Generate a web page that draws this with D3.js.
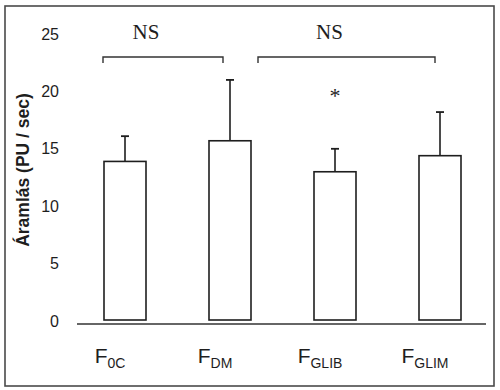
<!DOCTYPE html>
<html>
<head>
<meta charset="utf-8">
<script src="https://cdn.jsdelivr.net/npm/d3@7"></script>
<style>
  html, body { margin: 0; padding: 0; background: #fff; }
  svg { display: block; }
</style>
</head>
<body>
<svg id="chart" width="500" height="390"></svg>
<script>
// ---- data ----
const categories = ["F0C", "FDM", "FGLIB", "FGLIM"];
const labelMain = ["F", "F", "F", "F"];
const labelSub = ["0C", "DM", "GLIB", "GLIM"];
const means = [13.9, 15.7, 13.0, 14.4];
const errorTops = [16.1, 21.0, 15.0, 18.2];
const yTicks = [0, 5, 10, 15, 20, 25];
const bracketFrom = ["F0C", "FDM"];
const bracketTo = ["FDM", "FGLIM"];
const bracketLabels = ["NS", "NS"];
const bracketValue = 23.0;
const starCategory = "FGLIB";
const starLabel = "*";
const yTitle = "Áramlás (PU / sec)";

// ---- drawing ----
const svg = d3.select("#chart");
const ink = "#1e1e1e";

// outer frame
svg.append("rect")
  .attr("x", 5).attr("y", 6).attr("width", 489).attr("height", 380)
  .attr("fill", "none").attr("stroke", "#4a4a4a").attr("stroke-width", 1.6);

const y = d3.scaleLinear().domain([0, 25]).range([321, 34]);
const x = d3.scalePoint().domain(categories).range([125, 440]);
const barW = 42;

// y tick labels (no axis line)
const yAxis = d3.axisLeft(y).tickValues(yTicks).tickSize(0).tickPadding(0);
const gy = svg.append("g").attr("transform", "translate(59,0)").call(yAxis);
gy.select(".domain").remove();
gy.selectAll("text")
  .attr("font-family", "'Liberation Sans', Arial, sans-serif")
  .attr("font-size", 16)
  .attr("fill", ink);

// y title
svg.append("text")
  .attr("transform", `translate(29,170) rotate(-90)`)
  .attr("text-anchor", "middle")
  .attr("font-family", "'Liberation Sans', Arial, sans-serif")
  .attr("font-weight", "bold")
  .attr("font-size", 17.5)
  .attr("fill", ink)
  .text(yTitle);

// x baseline
svg.append("line")
  .attr("x1", 77).attr("x2", 486)
  .attr("y1", y(0) + 3).attr("y2", y(0) + 3)
  .attr("stroke", "#333").attr("stroke-width", 1.6);

// error bars
categories.forEach((c, i) => {
  svg.append("line")
    .attr("x1", x(c)).attr("x2", x(c))
    .attr("y1", y(means[i])).attr("y2", y(errorTops[i]))
    .attr("stroke", ink).attr("stroke-width", 1.6);
  svg.append("line")
    .attr("x1", x(c) - 4).attr("x2", x(c) + 4)
    .attr("y1", y(errorTops[i])).attr("y2", y(errorTops[i]))
    .attr("stroke", ink).attr("stroke-width", 1.8);
});

// bars
svg.selectAll("rect.bar")
  .data(categories)
  .join("rect")
  .attr("class", "bar")
  .attr("x", c => x(c) - barW / 2)
  .attr("y", (c, i) => y(means[i]))
  .attr("width", barW)
  .attr("height", (c, i) => y(0) - 1 - y(means[i]))
  .attr("fill", "#fff")
  .attr("stroke", ink)
  .attr("stroke-width", 1.6);

// x labels
categories.forEach((c, i) => {
  const t = svg.append("text")
    .attr("x", x(c) - 15).attr("y", 363)
    .attr("text-anchor", "middle")
    .attr("font-family", "'Liberation Sans', Arial, sans-serif")
    .attr("fill", ink);
  t.append("tspan").attr("font-size", 21).text(labelMain[i]);
  t.append("tspan").attr("font-size", 14).attr("dy", 5).text(labelSub[i]);
});

// brackets
const fromOff = [-22, 28];
const toOff = [-7, -5];
bracketFrom.forEach((f, i) => {
  const x1 = x(f) + fromOff[i];
  const x2 = x(bracketTo[i]) + toOff[i];
  const by = y(bracketValue);
  svg.append("path")
    .attr("d", `M${x1},${by + 6}V${by}H${x2}V${by + 6}`)
    .attr("fill", "none").attr("stroke", "#333").attr("stroke-width", 1.4);
  svg.append("text")
    .attr("x", (x1 + x2) / 2 - 17).attr("y", 39)
    .attr("text-anchor", "middle")
    .attr("font-family", "'Liberation Serif', 'Times New Roman', serif")
    .attr("font-size", 21)
    .attr("fill", ink)
    .text(bracketLabels[i]);
});

// significance star
svg.append("text")
  .attr("x", x(starCategory)).attr("y", 103)
  .attr("text-anchor", "middle")
  .attr("font-family", "'Liberation Serif', 'Times New Roman', serif")
  .attr("font-size", 22)
  .attr("fill", ink)
  .text(starLabel);
</script>
</body>
</html>
